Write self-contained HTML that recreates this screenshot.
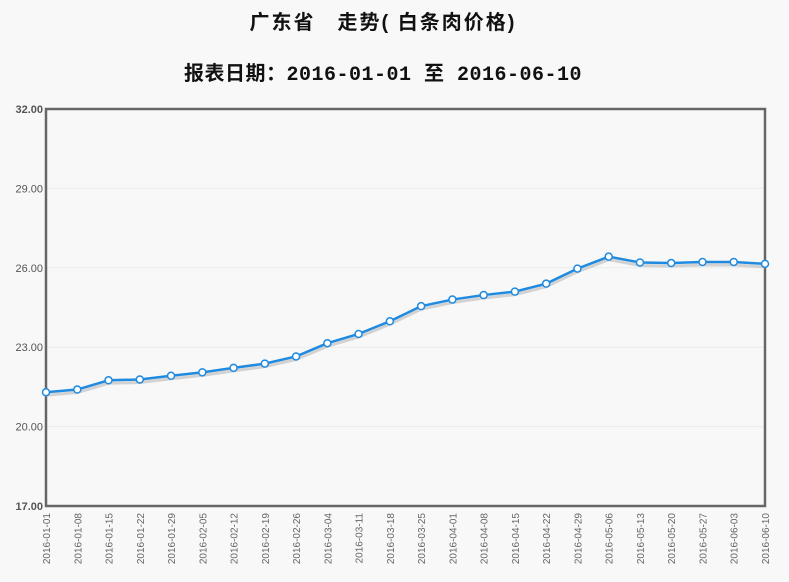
<!DOCTYPE html>
<html><head><meta charset="utf-8">
<style>
html,body{margin:0;padding:0;background:#f8f8f8;width:789px;height:582px;overflow:hidden}
svg{display:block}
</style></head>
<body>
<svg id="c" width="789" height="582" xmlns="http://www.w3.org/2000/svg">
<rect width="789" height="582" fill="#f8f8f8"/>
<text x="383" y="29" text-anchor="middle" font-family="'Liberation Sans','Noto Sans CJK SC',sans-serif" font-size="20" font-weight="bold" letter-spacing="2" fill="#111">广东省　走势( 白条肉价格)</text>
<text x="383" y="80" text-anchor="middle" font-family="'Liberation Mono','Noto Sans CJK SC',monospace" font-size="20" font-weight="bold" letter-spacing="0.5" fill="#111">报表日期：2016-01-01 至 2016-06-10</text>
<g id="grid"></g>
<rect x="46" y="109" width="719" height="397" fill="none" stroke="#666" stroke-width="2.5"/>
<g id="dat"></g>
</svg>
<script>
var ns="http://www.w3.org/2000/svg";
function el(t,a,p,txt){var e=document.createElementNS(ns,t);for(var k in a)e.setAttribute(k,a[k]);if(txt)e.textContent=txt;p.appendChild(e);return e;}
var g=document.getElementById('grid'),d=document.getElementById('dat');
function Y(v){return 109+(32-v)*397/15;}
[32,29,26,23,20,17].forEach(function(v){
 if(v<32&&v>17) el('line',{x1:47,x2:764,y1:Y(v),y2:Y(v),stroke:'#e6ecf0','stroke-width':1},g);
 el('text',{x:43,y:Y(v)+4,'text-anchor':'end','font-family':'Liberation Sans,sans-serif','font-size':11,fill:'#555','font-weight':(v==32||v==17)?'bold':'normal'},g,v.toFixed(2));
});
var dates=["2016-01-01","2016-01-08","2016-01-15","2016-01-22","2016-01-29","2016-02-05","2016-02-12","2016-02-19","2016-02-26","2016-03-04","2016-03-11","2016-03-18","2016-03-25","2016-04-01","2016-04-08","2016-04-15","2016-04-22","2016-04-29","2016-05-06","2016-05-13","2016-05-20","2016-05-27","2016-06-03","2016-06-10"];
var vals=[21.3,21.4,21.75,21.78,21.92,22.05,22.22,22.38,22.65,23.15,23.5,23.98,24.55,24.8,24.97,25.1,25.4,25.97,26.42,26.2,26.18,26.22,26.22,26.15];
var pts=[],sh=[];
dates.forEach(function(dt,i){
 var x=46+i*719/23;
 pts.push(x+','+Y(vals[i]));sh.push(x+','+(Y(vals[i])+3));
 el('text',{x:0,y:0,transform:'translate('+(x+4)+',513) rotate(-90)','text-anchor':'end','font-family':'Liberation Sans,sans-serif','font-size':10,fill:'#666'},g,dt);
});
el('polyline',{points:sh.join(' '),fill:'none',stroke:'#c8c8c8','stroke-width':3,opacity:0.8},d);
el('polyline',{points:pts.join(' '),fill:'none',stroke:'#1f8ae0','stroke-width':2.5},d);
vals.forEach(function(v,i){el('circle',{cx:46+i*719/23,cy:Y(v),r:3.5,fill:'#fff',stroke:'#1f8ae0','stroke-width':1.5},d);});
</script>
</body></html>
